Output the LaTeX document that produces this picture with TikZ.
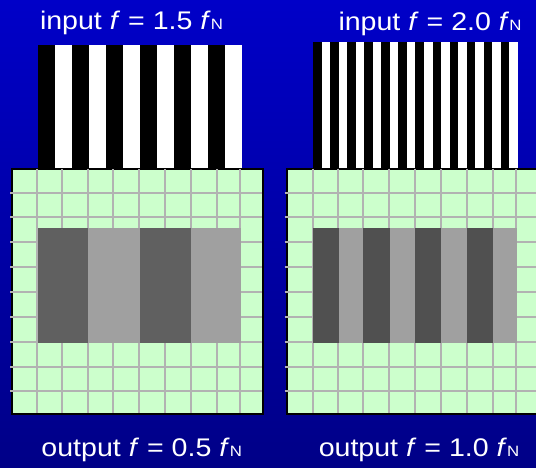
\documentclass[tikz,border=0pt]{standalone}
\usepackage{fontspec}
\setmainfont{Liberation Sans}
\newfontfamily\labfont[FakeStretch=1.12]{Liberation Sans}
\newcommand\nyq{\textit{f}{\fontsize{15}{15}\selectfont N}}
\definecolor{cellgreen}{HTML}{CCFFCC}
\definecolor{gridgray}{HTML}{B2B2B2}
\definecolor{darkbarA}{HTML}{606060}
\definecolor{darkbarB}{HTML}{505050}
\definecolor{lightbar}{HTML}{A0A0A0}
\begin{document}
\begin{tikzpicture}[x=1pt,y=-1pt,
  lab/.style={text=white, font=\labfont\fontsize{25.5}{25.5}\selectfont, anchor=base, inner sep=0pt},
  sensor/.style={fill=cellgreen},
  frame/.style={draw=black, line width=2pt},
  gridline/.style={draw=gridgray, line width=2.2pt}]
\useasboundingbox (0,0) rectangle (536,467);
\clip (0,0) rectangle (536,467);
% background
\shade[top color={rgb,255:red,0;green,0;blue,200}, middle color={rgb,255:red,0;green,0;blue,255},
  bottom color={rgb,255:red,0;green,0;blue,135}] (0,0) rectangle (536,467);

% input test patterns
\fill[white] (37.7,45) rectangle (242,168);
\foreach \i in {0,...,5} \fill[black] ({37.7+\i*34.05},45) rectangle ++(17.03,123);
\fill[white] (313.3,41.7) rectangle (517.7,168);
\foreach \i in {0,...,11} \fill[black] ({313.3+\i*17.03},41.7) rectangle ++(8.52,126.3);

% left sensor
\fill[sensor] (12,169) rectangle (263,414);
\draw[frame] (12,169) rectangle (263,414);
\foreach \x in {37,62.3,87.7,113.3,139.3,165,191,217,240} \draw[gridline] (\x,169) -- (\x,413);
\foreach \y in {193.3,217.3,241.7,267.3,292.3,316.7,342.3,367.3,390.7} \draw[gridline] (10,\y) -- (262,\y);
\fill[darkbarA] (38,227.5) rectangle (88,342.5);
\fill[lightbar] (88,227.5) rectangle (139.5,342.5);
\fill[darkbarA] (139.5,227.5) rectangle (191,342.5);
\fill[lightbar] (191,227.5) rectangle (240.7,342.5);

% right sensor
\fill[sensor] (286.7,168.5) rectangle (540,413.5);
\draw[frame] (286.7,168.5) rectangle (540,413.5);
\foreach \x in {312.7,337.7,362.7,389,415,441,467,493,516} \draw[gridline] (\x,168.5) -- (\x,412.5);
\foreach \y in {193.3,217.3,241.7,267.3,292.3,316.7,342.3,367.3,390.7} \draw[gridline] (284.7,\y) -- (540,\y);
\foreach \a/\b/\c in {312.7/339/darkbarB,339/363/lightbar,363/390/darkbarB,390/415/lightbar,
                      415/441/darkbarB,441/467/lightbar,467/493/darkbarB,493/516.7/lightbar}
  \fill[\c] (\a,228) rectangle (\b,343);

% labels
\node[lab] (inA)  at (131.5,29.5) {input \textit{f} = 1.5 \nyq};
\node[lab] (inB)  at (430,30)     {input \textit{f} = 2.0 \nyq};
\node[lab] (outA) at (141.7,456.7) {output \textit{f} = 0.5 \nyq};
\node[lab] (outB) at (419,456.7)   {output \textit{f} = 1.0 \nyq};
\end{tikzpicture}
\end{document}
